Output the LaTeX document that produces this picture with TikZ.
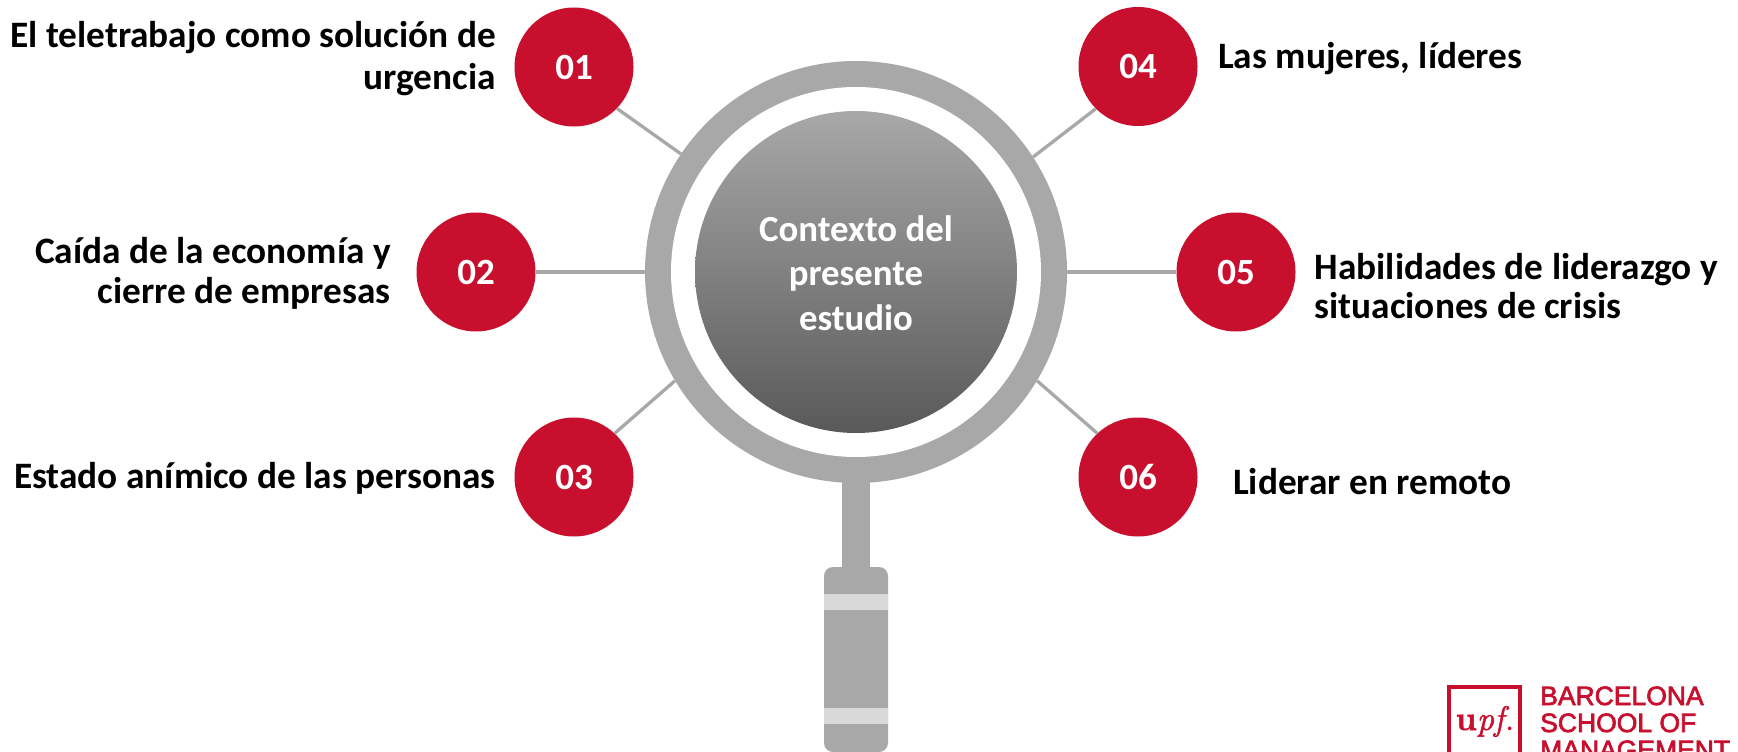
\documentclass[tikz,border=0pt]{standalone}
\usepackage{fontspec}
\setmainfont{Carlito}
\newfontfamily\logofont[FakeBold=2.5]{Liberation Sans}
\newfontfamily\upffont[FakeBold=1.5]{Latin Modern Roman}
\definecolor{upfred}{HTML}{C8102E}
\definecolor{lensgrey}{HTML}{A8A8A8}
\definecolor{bandgrey}{HTML}{D9D9D9}
\tikzset{
  x=1pt,y=-1pt,
  badge/.style={circle,fill=upfred,text=white,minimum size=119pt,inner sep=0pt,font=\fontsize{37}{40}\selectfont\bfseries},
  spoke/.style={draw=lensgrey,line width=3.3pt},
  caption/.style={inner sep=0pt,text=black,font=\fontsize{37.3}{40}\selectfont\bfseries},
  centreline/.style={anchor=base,inner sep=0pt,text=white,font=\fontsize{36.8}{44.5}\selectfont\bfseries},
  logoline/.style={anchor=base west,inner sep=0pt,text=upfred,font=\fontsize{26.5}{27}\selectfont\logofont},
}
\begin{document}
\begin{tikzpicture}
\useasboundingbox (0,0) rectangle (1738,752);
\clip (0,0) rectangle (1738,752);
% handle
\fill[lensgrey] (842,470) rectangle (870,575);
\fill[lensgrey,rounded corners=9pt] (824,567) rectangle (888,752);
\fill[bandgrey] (824,594) rectangle (888,610);
\fill[bandgrey] (824,708) rectangle (888,724);
% lens
\node[circle,fill=lensgrey,minimum size=422pt,inner sep=0pt] (ring) at (856,272) {};
\node[circle,fill=white,minimum size=370pt,inner sep=0pt] (glass) at (856,272) {};
\node[circle,top color=lensgrey,bottom color=black!65,minimum size=322pt,inner sep=0pt] (core) at (856,272) {};
\node[centreline] (w1) at (856,241) {Contexto del};
\node[centreline] (w2) at (856,285.5) {presente};
\node[centreline] (w3) at (856,330) {estudio};
% badges
\node[badge] (c1) at (574,67) {01};
\node[badge] (c2) at (476,272) {02};
\node[badge] (c3) at (574,477) {03};
\node[badge] (c4) at (1138,66.5) {04};
\node[badge] (c5) at (1236,272) {05};
\node[badge] (c6) at (1138,477) {06};
% spokes
\draw[spoke] (c1.-44) -- (ring.146.6);
\draw[spoke] (c2.east) -- (ring.west);
\draw[spoke] (c3.47) -- (ring.211.6);
\draw[spoke] (c4.225.7) -- (ring.33.6);
\draw[spoke] (ring.east) -- (c5.west);
\draw[spoke] (c6.133.6) -- (ring.-31.4);
% captions
\node[caption,anchor=base east] (t1) at (496,48) {El teletrabajo como solución de};
\node[caption,anchor=base east] (t1b) at (496,89.5) {urgencia};
\node[caption,anchor=base east] (t2) at (391,263) {Caída de la economía y};
\node[caption,anchor=base east] (t2b) at (391,303) {cierre de empresas};
\node[caption,anchor=base east] (t3) at (495.5,488) {Estado anímico de las personas};
\node[caption,anchor=base west] (t4) at (1218,68.5) {Las mujeres, líderes};
\node[caption,anchor=base west] (t5) at (1314.5,279) {Habilidades de liderazgo y};
\node[caption,anchor=base west] (t5b) at (1314.5,318.5) {situaciones de crisis};
\node[caption,anchor=base west] (t6) at (1233,494.5) {Liderar en remoto};
% logo
\draw[upfred,line width=4pt] (1449,760) -- (1449,687) -- (1520,687) -- (1520,760);
\node[anchor=base,inner sep=0pt,text=upfred,font=\fontsize{34}{34}\selectfont\upffont] (upf) at (1485,730) {\textbf{u}\textit{pf.}};
\node[logoline] (l1) at (1540,705) {BARCELONA};
\node[logoline] (l2) at (1540,732) {SCHOOL OF};
\node[logoline] (l3) at (1540,759) {MANAGEMENT};
\end{tikzpicture}
\end{document}
